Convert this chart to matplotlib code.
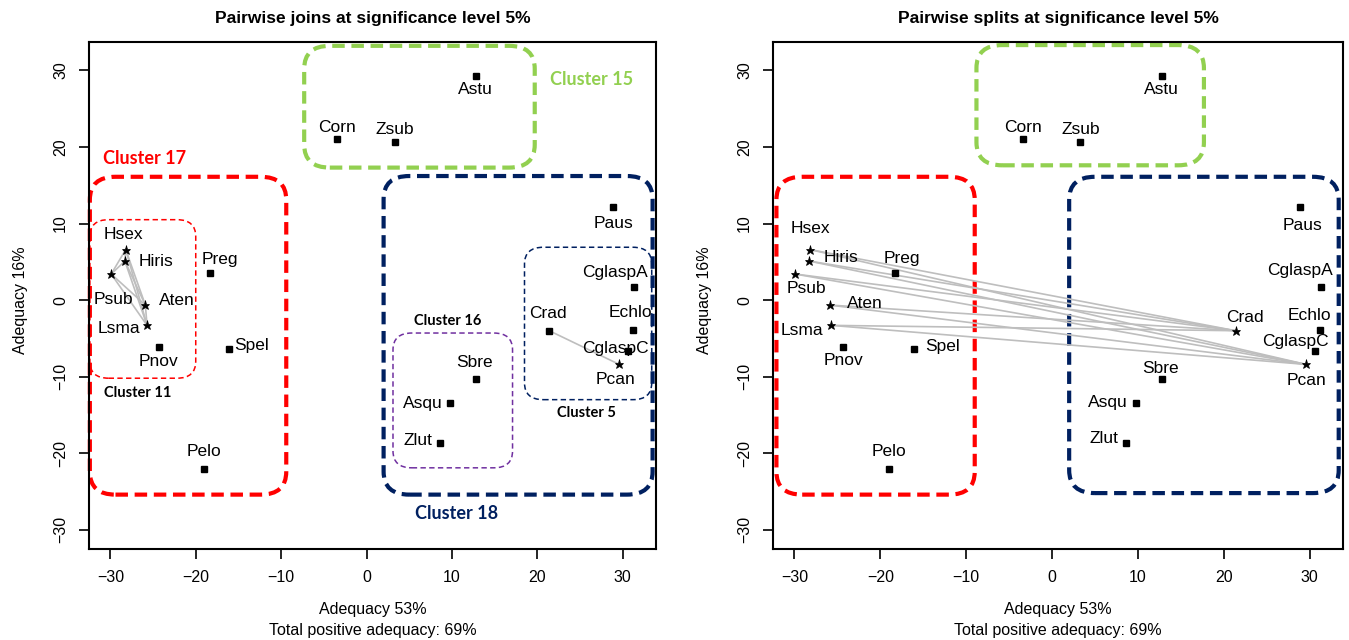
import matplotlib
matplotlib.use('Agg')
import matplotlib.pyplot as plt
from matplotlib.patches import FancyBboxPatch

plt.rcParams['font.family'] = ['Liberation Sans', 'DejaVu Sans']

# species coordinates on the two first axes
species = ['Astu', 'Corn', 'Zsub', 'Paus', 'CglaspA', 'Echlo', 'CglaspC', 'Pcan', 'Crad',
           'Sbre', 'Asqu', 'Zlut', 'Pelo', 'Spel', 'Preg', 'Pnov', 'Hsex', 'Hiris', 'Psub',
           'Aten', 'Lsma']
axis1 = [12.8, -3.4, 3.3, 28.9, 31.3, 31.2, 30.6, 29.6, 21.4, 12.8, 9.8, 8.6, -19.0, -16.1,
         -18.3, -24.3, -28.2, -28.3, -29.9, -25.9, -25.7]
axis2 = [29.2, 21.0, 20.6, 12.1, 1.7, -3.9, -6.7, -8.4, -4.0, -10.3, -13.4, -18.7, -22.0, -6.4,
         3.6, -6.1, 6.6, 5.1, 3.4, -0.65, -3.3]

# significant pairs
group11 = ['Hsex', 'Hiris', 'Psub', 'Aten', 'Lsma']
joins = [(a, b) for i, a in enumerate(group11) for b in group11[i + 1:]] + [('Crad', 'Pcan')]
splits = [(a, b) for a in group11 for b in ['Crad', 'Pcan']]

pos = {s: (x, y) for s, x, y in zip(species, axis1, axis2)}

# label offsets (pixels)
lab_left = {'Astu': (0, -13), 'Corn': (0, 12), 'Zsub': (0, 12.7), 'Paus': (0, -15.6),
            'CglaspA': (-19, 14.3), 'Echlo': (-3, 17), 'CglaspC': (-12.6, 2.7), 'Pcan': (-4, -14.7),
            'Crad': (-1, 17), 'Sbre': (-1, 16), 'Asqu': (-27, -1), 'Zlut': (-22.5, 3),
            'Pelo': (0, 17), 'Spel': (22.5, 4), 'Preg': (9.5, 13), 'Pnov': (-1, -14.7),
            'Hsex': (-2, 15), 'Hiris': (31, 0), 'Psub': (2.5, -25), 'Aten': (31.5, 4.7),
            'Lsma': (-28.4, -2.7)}
lab_right = {'Astu': (0, -13), 'Corn': (0, 12), 'Zsub': (0, 12.7), 'Paus': (2, -18),
             'CglaspA': (-20.7, 17), 'Echlo': (-10, 14), 'CglaspC': (-19, 9.7), 'Pcan': (0, -16),
             'Crad': (9, 13.4), 'Sbre': (-1, 10), 'Asqu': (-28, 0), 'Zlut': (-22, 5),
             'Pelo': (0, 17), 'Spel': (28.7, 2.6), 'Preg': (7, 14), 'Pnov': (0, -13.3),
             'Hsex': (0.5, 20.7), 'Hiris': (32, 3.4), 'Psub': (10.7, -14.7), 'Aten': (34.7, 1.7),
             'Lsma': (-29, -5)}

RED, GREEN, NAVY, PURPLE = '#FF0000', '#92D050', '#002060', '#7030A0'

# cluster boxes: x0, y0, x1, y1, colour, thick
boxes_left = [(-7.3, 17.3, 19.7, 33.2, GREEN, True),
              (-32.4, -25.4, -9.4, 16.1, RED, True),
              (-32.4, -10.2, -20.0, 10.5, RED, False),
              (2.0, -25.4, 33.5, 16.2, NAVY, True),
              (18.5, -13.0, 33.4, 6.9, NAVY, False),
              (3.1, -21.9, 17.1, -4.3, PURPLE, False)]
boxes_right = [(-8.8, 17.6, 17.7, 33.3, GREEN, True),
               (-32.1, -25.4, -9.0, 16.1, RED, True),
               (2.0, -25.2, 33.4, 16.1, NAVY, True)]
cluster_labels = [('Cluster 15', 26.3, 28.8, GREEN, 13),
                  ('Cluster 17', -26.0, 18.5, RED, 13),
                  ('Cluster 11', -26.8, -12.1, 'black', 10.5),
                  ('Cluster 16', 9.5, -2.75, 'black', 10.5),
                  ('Cluster 5', 25.7, -14.7, 'black', 10.5),
                  ('Cluster 18', 10.5, -27.8, NAVY, 13)]


def panel(ax, title, pairs, stars, offsets, boxes):
    for a, b in pairs:
        ax.plot([pos[a][0], pos[b][0]], [pos[a][1], pos[b][1]], color='#BEBEBE', lw=1.2, zorder=2)
    for s in species:
        x, y = pos[s]
        if s in stars:
            ax.plot(x, y, marker='*', ms=6.5, color='black', mew=0.5, zorder=3)
        else:
            ax.plot(x, y, marker='s', ms=4, color='black', zorder=3)
        ax.annotate(s, (x, y), xytext=offsets[s], textcoords='offset pixels',
                    ha='center', va='center', fontsize=12.5, zorder=4)
    for x0, y0, x1, y1, c, thick in boxes:
        if thick:
            lw, dash, r = 3.0, (3, 1.6), 3.0
        else:
            lw, dash, r = 1.1, (3.5, 2.2), 2.2
        p = FancyBboxPatch((x0, y0), x1 - x0, y1 - y0,
                           boxstyle=f'round,pad=0,rounding_size={r}',
                           fill=False, ec=c, lw=lw, ls=(0, dash), clip_on=False, zorder=1)
        ax.add_patch(p)
    ax.set_xlim(-32.5, 33.9)
    ax.set_ylim(-32.5, 33.7)
    ax.set_xticks(range(-30, 31, 10))
    ax.set_yticks(range(-30, 31, 10))
    ax.set_yticklabels([str(v).replace('-', '\u2212') for v in range(-30, 31, 10)],
                       rotation=90, va='center')
    ax.set_xticklabels([str(v).replace('-', '\u2212') for v in range(-30, 31, 10)])
    ax.tick_params(length=7, width=1.2, pad=8, labelsize=11.5, direction='out')
    for sp in ax.spines.values():
        sp.set_linewidth(1.5)
    ax.text(0.5, 1.047, title, transform=ax.transAxes, ha='center', va='center',
            fontsize=12.5, fontweight='bold')
    ax.text(0.5, -0.12, 'Adequacy 53%', transform=ax.transAxes, ha='center', va='center',
            fontsize=11.5)
    ax.text(0.5, -0.16, 'Total positive adequacy: 69%', transform=ax.transAxes,
            ha='center', va='center', fontsize=11.5)
    ax.text(-0.12, 0.491, 'Adequacy 16%', transform=ax.transAxes, ha='center', va='center',
            rotation=90, fontsize=11.5)


fig = plt.figure(figsize=(13.49, 6.4), dpi=100)
ax1 = fig.add_axes([89 / 1349, 91 / 640, 567 / 1349, 507 / 640])
ax2 = fig.add_axes([773 / 1349, 91 / 640, 570 / 1349, 507 / 640])

panel(ax1, 'Pairwise joins at significance level 5%', joins, group11 + ['Pcan'],
      lab_left, boxes_left)
panel(ax2, 'Pairwise splits at significance level 5%', splits, group11 + ['Pcan', 'Crad'],
      lab_right, boxes_right)

for txt, x, y, c, fs in cluster_labels:
    ax1.text(x, y, txt, color=c, fontsize=fs, fontweight='bold', ha='center', va='center',
             family=['Lato', 'DejaVu Sans'])

fig.savefig('out.png', dpi=100)
